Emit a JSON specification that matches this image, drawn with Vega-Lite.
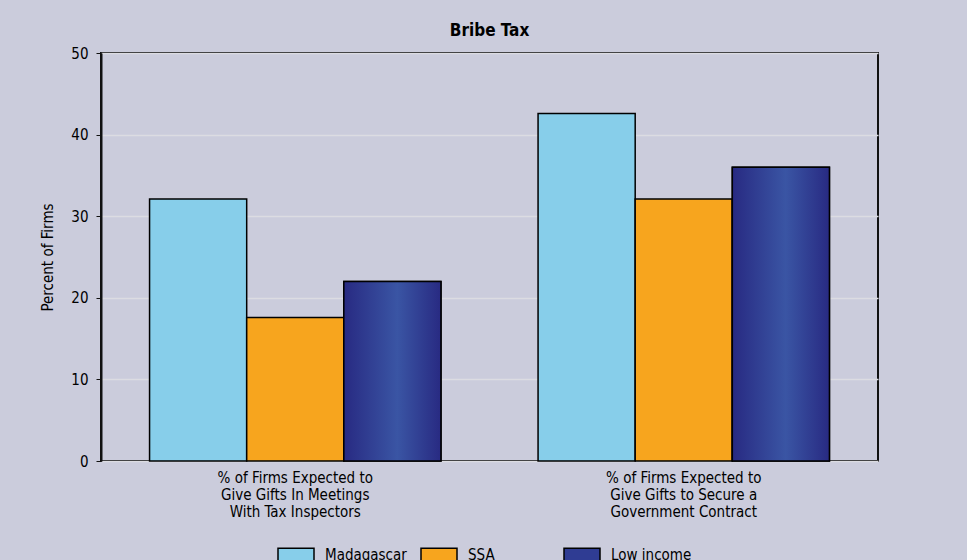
{
  "$schema": "https://vega.github.io/schema/vega-lite/v6.json",
  "width": 777,
  "height": 408,
  "autosize": {"type": "none"},
  "padding": {"left": 101, "top": 53, "right": 89, "bottom": 99},
  "background": "#CBCCDC",
  "config": {
    "font": "DejaVu Sans Condensed, Liberation Sans, sans-serif",
    "view": {"stroke": "#111111", "strokeWidth": 2, "fill": "#CBCCDC"},
    "axis": {"labelFont": "DejaVu Sans Condensed, Liberation Sans, sans-serif", "titleFont": "DejaVu Sans Condensed, Liberation Sans, sans-serif", "labelColor": "#000000", "titleColor": "#000000"}
  },
  "title": {"text": "Bribe Tax", "font": "DejaVu Sans Condensed, Liberation Sans, sans-serif", "fontSize": 17, "fontWeight": "bold", "color": "#000000", "offset": 6, "anchor": "middle"},
  "data": {
    "values": [
      {"indicator": "% of Firms Expected to|Give Gifts In Meetings|With Tax Inspectors", "series": "Madagascar", "value": 32.1},
      {"indicator": "% of Firms Expected to|Give Gifts In Meetings|With Tax Inspectors", "series": "SSA", "value": 17.6},
      {"indicator": "% of Firms Expected to|Give Gifts In Meetings|With Tax Inspectors", "series": "Low income", "value": 22.0},
      {"indicator": "% of Firms Expected to|Give Gifts to Secure a|Government Contract", "series": "Madagascar", "value": 42.6},
      {"indicator": "% of Firms Expected to|Give Gifts to Secure a|Government Contract", "series": "SSA", "value": 32.1},
      {"indicator": "% of Firms Expected to|Give Gifts to Secure a|Government Contract", "series": "Low income", "value": 36.0}
    ]
  },
  "encoding": {
    "x": {
      "field": "indicator", "type": "nominal", "sort": null,
      "scale": {"paddingInner": 0.25, "paddingOuter": 0.125},
      "axis": {"title": null, "labelAngle": 0, "labelExpr": "split(datum.label, '|')", "labelFontSize": 15, "labelLineHeight": 17, "ticks": false, "domain": false, "labelPadding": 9, "labelLimit": 400}
    },
    "xOffset": {"field": "series", "type": "nominal", "sort": ["Madagascar", "SSA", "Low income"], "scale": {"domain": ["Madagascar", "SSA", "Low income"], "paddingInner": 0, "paddingOuter": 0}},
    "y": {
      "field": "value", "type": "quantitative",
      "scale": {"domain": [0, 50], "nice": false},
      "axis": {"title": "Percent of Firms", "titleFontSize": 15, "titleFontWeight": "normal", "titlePadding": 15, "values": [0, 10, 20, 30, 40, 50], "labelFontSize": 15, "tickSize": 5, "tickColor": "#111111", "domainColor": "#111111", "domainWidth": 2, "labelPadding": 8, "grid": true, "gridColor": "#DCDCE2", "gridWidth": 1.5}
    }
  },
  "layer": [
    {
      "mark": {"type": "bar", "stroke": "#000000", "strokeWidth": 1.5},
      "encoding": {
        "color": {
          "field": "series", "type": "nominal",
          "scale": {"domain": ["Madagascar", "SSA", "Low income"], "range": ["#87CEEA", "#F7A51E", "#2F3C93"]},
          "legend": {
            "title": null, "orient": "none", "legendX": 176, "legendY": 483, "direction": "horizontal", "columns": 3, "gridAlign": "all",
            "labelFont": "DejaVu Sans Condensed, Liberation Sans, sans-serif", "labelFontSize": 15, "labelColor": "#000000", "labelOffset": 10,
            "symbolType": "M-1,-0.4H1V0.4H-1Z", "symbolSize": 1296, "symbolStrokeColor": "#000000", "symbolStrokeWidth": 1.5, "symbolOpacity": 1,
            "columnPadding": 11
          }
        }
      }
    },
    {
      "transform": [{"filter": "datum.series === 'Low income'"}],
      "mark": {
        "type": "bar", "stroke": "#000000", "strokeWidth": 1.5,
        "fill": {"gradient": "linear", "x1": 0, "y1": 0, "x2": 1, "y2": 0, "stops": [
          {"offset": 0, "color": "#282A82"},
          {"offset": 0.55, "color": "#3A55A4"},
          {"offset": 1, "color": "#282A82"}
        ]}
      }
    }
  ]
}
